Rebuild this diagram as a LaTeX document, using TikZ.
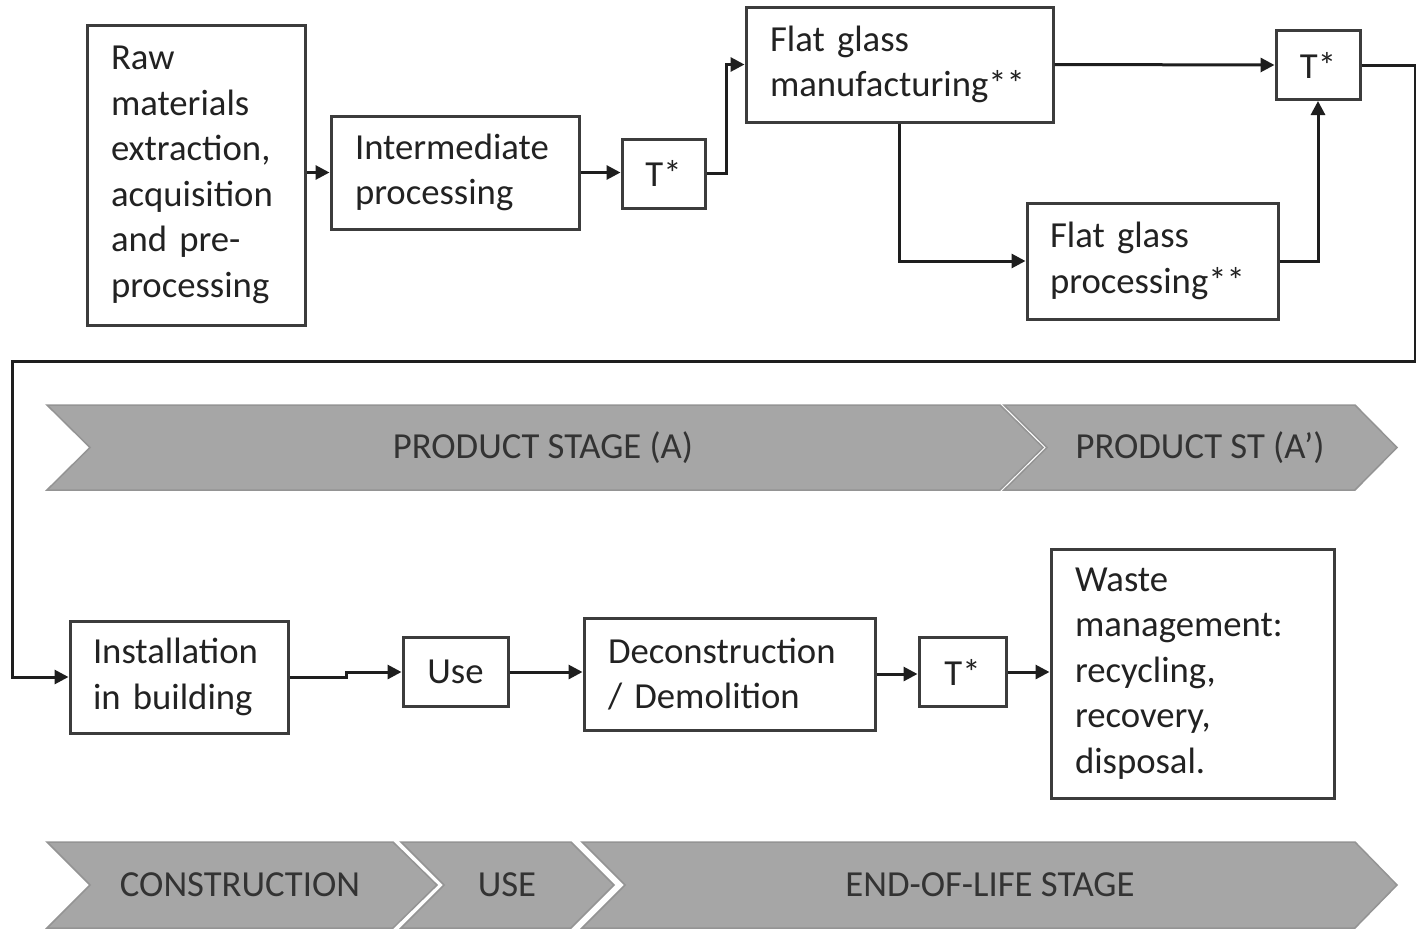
\documentclass[tikz,border=0pt]{standalone}
\usepackage{fontspec}
\setmainfont{Carlito}
\usetikzlibrary{arrows.meta}
\definecolor{boxline}{HTML}{3C3C3C}
\definecolor{txt}{HTML}{222222}
\definecolor{conn}{HTML}{1E1E1E}
\definecolor{chevfill}{HTML}{A6A6A6}
\definecolor{chevline}{HTML}{949494}
\definecolor{chevtxt}{HTML}{333333}
\begin{document}
\begin{tikzpicture}[x=1pt,y=-1pt,
  font=\fontsize{36.7}{45.5}\selectfont,
  box/.style={draw=boxline, line width=3pt, fill=white, text=txt, align=left,
    inner xsep=0pt, inner ysep=0pt},
  tbox/.style={draw=boxline, line width=3pt, fill=white, text=txt,
    inner sep=0pt, minimum width=#1, minimum height=69pt},
  conn/.style={draw=conn, line width=3pt, -{Triangle[length=14pt,width=14pt]}},
  chev/.style={fill=chevfill, draw=chevline, line width=1.5pt},
  chevtext/.style={text=chevtxt, inner sep=0pt}
]
\useasboundingbox (0,0) rectangle (1416,930);
\fill[white] (0,0) rectangle (1416,930);

% boxes
\node[box, minimum width=218pt, minimum height=300pt, text width=170pt] (raw) at (196,175)
  {Raw\\materials\\extraction,\\acquisition\\and pre-\\processing};
\node[box, minimum width=248pt, minimum height=113pt, text width=200pt] (inter) at (455,172.5)
  {Intermediate\\processing};
\node[tbox=83pt] (t1) at (663.5,173.5) {T*};
\node[box, minimum width=307pt, minimum height=115pt, text width=259pt] (manuf) at (899.5,64.5)
  {Flat glass\\manufacturing**};
\node[tbox=84pt] (t2) at (1318,65) {T*};
\node[box, minimum width=251pt, minimum height=116pt, text width=205pt] (proc) at (1152.5,261)
  {Flat glass\\processing**};
\node[box, minimum width=218pt, minimum height=112pt, text width=172pt] (inst) at (179,677)
  {Installation\\in building};
\node[tbox=105pt] (use) at (455.5,672) {Use};
\node[box, minimum width=291pt, minimum height=112pt, text width=243pt] (decon) at (729.5,674)
  {Deconstruction\\/ Demolition};
\node[tbox=87pt] (t3) at (962.5,672) {T*};
\node[box, minimum width=283pt, minimum height=249pt, text width=235pt] (waste) at (1192.5,673.5)
  {Waste\\management:\\recycling,\\recovery,\\disposal.};

% connectors
\coordinate (c1) at (1415,361);
\coordinate (c2) at (12,361);
\draw[conn] (inter.west -| raw.east) -- (inter.west);
\draw[conn] (inter.east) -- (inter.east -| t1.west);
\draw[conn] (t1.east) -- ++(20,0) |- (manuf.west);
\draw[conn] (manuf.east) -- (t2.west);
\draw[conn] (manuf.south) |- (proc.west);
\draw[conn] (proc.east) -| (t2.south);
\draw[conn] (t2.east) -| (c1) -- (c2) |- (inst.west);
\draw[conn] (inst.east) -- ++(57,0) |- (use.west);
\draw[conn] (use.east) -- (use.east -| decon.west);
\draw[conn] (decon.east) -- (decon.east -| t3.west);
\draw[conn] (t3.east) -- (t3.east -| waste.west);

% stage chevrons, top row
\path[chev] (47,405) -- (1000,405) -- (1043,447.5) -- (1000,490) -- (47,490) -- (90,447.5) -- cycle;
\path[chev] (1004,405) -- (1355,405) -- (1397,447.5) -- (1355,490) -- (1004,490) -- (1047,447.5) -- cycle;
\node[chevtext] (stA) at (543,447.5) {PRODUCT STAGE (A)};
\node[chevtext] (stB) at (1200,447.5) {PRODUCT ST (A’)};

% stage chevrons, bottom row
\path[chev] (47,842) -- (393,842) -- (437,885) -- (393,928) -- (47,928) -- (90,885) -- cycle;
\path[chev] (401,842) -- (571,842) -- (614,885) -- (571,928) -- (401,928) -- (444,885) -- cycle;
\path[chev] (582,842) -- (1355,842) -- (1397,885) -- (1355,928) -- (582,928) -- (625,885) -- cycle;
\node[chevtext] (stC) at (240,885) {CONSTRUCTION};
\node[chevtext] (stU) at (507,885) {USE};
\node[chevtext] (stE) at (990,885) {END-OF-LIFE STAGE};
\end{tikzpicture}
\end{document}
